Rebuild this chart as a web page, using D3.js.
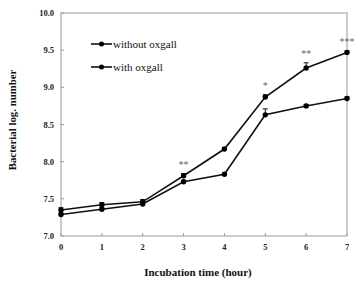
<!DOCTYPE html>
<html>
<head>
<meta charset="utf-8">
<script src="https://cdn.jsdelivr.net/npm/d3@7"></script>
<style>
  body { margin: 0; background: #fff; }
  svg { display: block; }
</style>
</head>
<body>
<div id="chart"></div>
<script>
// incubation hours and log counts
var hours = [0, 1, 2, 3, 4, 5, 6, 7];
var withoutOxgall = [7.35, 7.42, 7.46, 7.81, 8.17, 8.87, 9.26, 9.47];
var withoutErr    = [0.03, 0.03, 0.03, 0.03, 0.01, 0.03, 0.07, 0.02];
var withOxgall    = [7.29, 7.36, 7.43, 7.73, 7.83, 8.63, 8.75, 8.85];
var withErr       = [0.02, 0.02, 0.02, 0.02, 0.01, 0.08, 0.02, 0.02];
var stars = [{h: 3, s: "**"}, {h: 5, s: "*"}, {h: 6, s: "**"}, {h: 7, s: "***"}];
var yTicks = [7.0, 7.5, 8.0, 8.5, 9.0, 9.5, 10.0];

var width = 356, height = 282;
var margin = {left: 61, right: 9, top: 13, bottom: 46};

var svg = d3.select("#chart").append("svg")
            .attr("width", width)
            .attr("height", height);

var x = d3.scaleLinear().domain([0, 7]).range([margin.left, width - margin.right]);
var y = d3.scaleLinear().domain([7, 10]).range([height - margin.bottom, margin.top]);

var serif = "'Liberation Serif', 'Times New Roman', serif";

// frame
svg.append("rect")
   .attr("x", x(0)).attr("y", y(10))
   .attr("width", x(7) - x(0)).attr("height", y(7) - y(10))
   .attr("fill", "none")
   .attr("stroke", "#9a9a9a")
   .attr("stroke-width", 1);

// inward ticks
svg.selectAll(".xtick").data(hours).enter().append("line")
   .attr("x1", function (d) { return x(d); }).attr("x2", function (d) { return x(d); })
   .attr("y1", y(7)).attr("y2", y(7) - 3)
   .attr("stroke", "#9a9a9a");
svg.selectAll(".ytick").data(yTicks).enter().append("line")
   .attr("x1", x(0)).attr("x2", x(0) + 3)
   .attr("y1", function (d) { return y(d); }).attr("y2", function (d) { return y(d); })
   .attr("stroke", "#9a9a9a");

// tick labels
svg.selectAll(".xlab").data(hours).enter().append("text")
   .attr("x", function (d) { return x(d); })
   .attr("y", y(7) + 14)
   .attr("text-anchor", "middle")
   .attr("font-family", serif).attr("font-weight", "bold").attr("font-size", "8.5px")
   .attr("fill", "#222")
   .text(function (d) { return d; });

svg.selectAll(".ylab").data(yTicks).enter().append("text")
   .attr("x", x(0) - 7)
   .attr("y", function (d) { return y(d) + 3; })
   .attr("text-anchor", "end")
   .attr("font-family", serif).attr("font-weight", "bold").attr("font-size", "8.5px")
   .attr("fill", "#222")
   .text(function (d) { return d.toFixed(1); });

// axis titles
svg.append("text")
   .attr("x", 198)
   .attr("y", 276)
   .attr("text-anchor", "middle")
   .attr("font-family", serif).attr("font-weight", "bold").attr("font-size", "11px")
   .attr("fill", "#111")
   .text("Incubation time (hour)");

svg.append("text")
   .attr("transform", "translate(16," + 120 + ") rotate(-90)")
   .attr("text-anchor", "middle")
   .attr("font-family", serif).attr("font-weight", "bold").attr("font-size", "10.8px")
   .attr("fill", "#111")
   .text("Bacterial log. number");

var line = d3.line()
             .x(function (d) { return x(d[0]); })
             .y(function (d) { return y(d[1]); });

function drawSeries(vals, errs) {
  var pts = hours.map(function (h, i) { return [h, vals[i], errs[i]]; });
  var g = svg.append("g");
  g.selectAll(".err").data(pts).enter().append("path")
   .attr("d", function (d) {
     var xt = x(d[0]), yt = y(d[1] + d[2]);
     return "M" + xt + "," + y(d[1]) + "V" + yt + "M" + (xt - 2.5) + "," + yt + "H" + (xt + 2.5);
   })
   .attr("stroke", "#111").attr("stroke-width", 1).attr("fill", "none");
  g.append("path").datum(pts)
   .attr("d", line)
   .attr("fill", "none").attr("stroke", "#111").attr("stroke-width", 1.6);
  g.selectAll("circle").data(pts).enter().append("circle")
   .attr("cx", function (d) { return x(d[0]); })
   .attr("cy", function (d) { return y(d[1]); })
   .attr("r", 2.7)
   .attr("fill", "#000");
}

drawSeries(withoutOxgall, withoutErr);
drawSeries(withOxgall, withErr);

// significance marks
svg.selectAll(".star").data(stars).enter().append("text")
   .attr("x", function (d) { return x(d.h); })
   .attr("y", function (d) {
     var i = hours.indexOf(d.h);
     return y(withoutOxgall[i] + withoutErr[i]) - 6;
   })
   .attr("text-anchor", "middle")
   .attr("font-family", serif).attr("font-size", "10px")
   .attr("fill", "#666")
   .text(function (d) { return d.s; });

// legend
var legend = [{label: "without oxgall", ly: 44}, {label: "with oxgall", ly: 67}];
legend.forEach(function (d) {
  svg.append("line")
     .attr("x1", 91).attr("x2", 112)
     .attr("y1", d.ly).attr("y2", d.ly)
     .attr("stroke", "#111").attr("stroke-width", 1.6);
  svg.append("circle")
     .attr("cx", 101.5).attr("cy", d.ly).attr("r", 2.5)
     .attr("fill", "#000");
  svg.append("text")
     .attr("x", 113).attr("y", d.ly + 3.5)
     .attr("font-family", serif).attr("font-size", "11px")
     .attr("fill", "#111")
     .text(d.label);
});
</script>
</body>
</html>
